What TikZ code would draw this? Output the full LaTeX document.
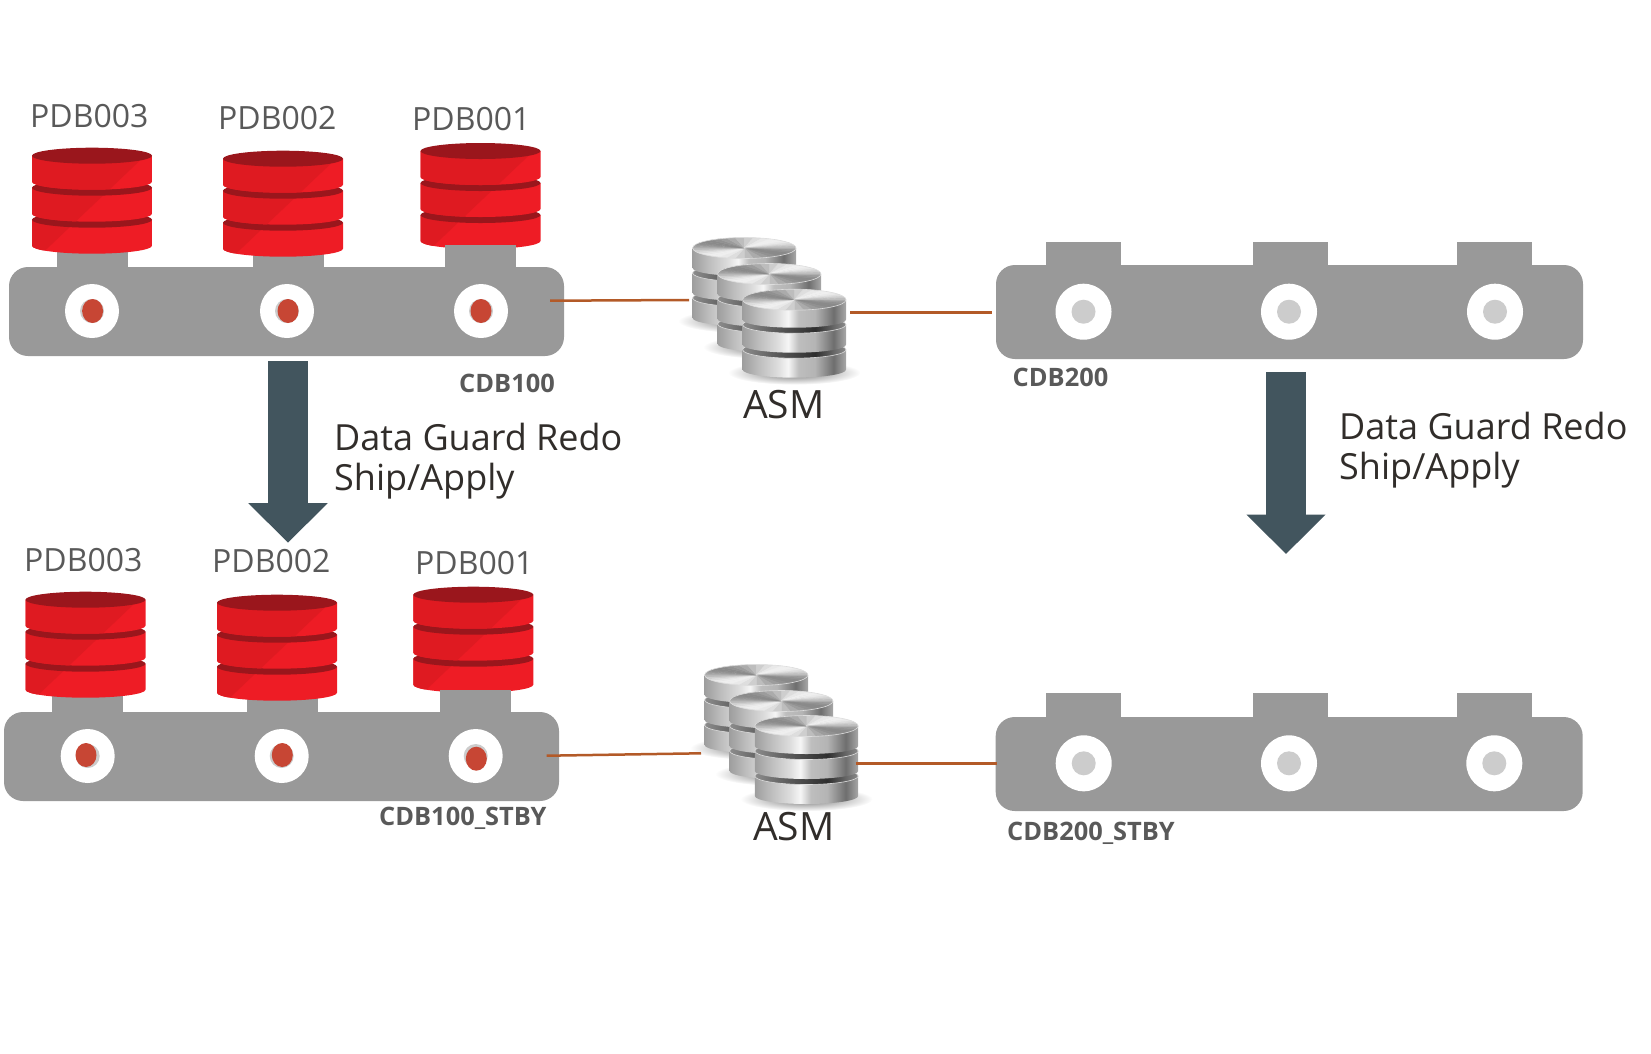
\documentclass[tikz,border=0pt]{standalone}
\usepackage{fontspec}
\setmainfont{Open Sans}
\usetikzlibrary{shapes,calc,positioning,arrows.meta,fadings}

\definecolor{barGrey}{HTML}{999999}
\definecolor{portGrey}{HTML}{CCCCCC}
\definecolor{portRed}{HTML}{C74634}
\definecolor{redBright}{HTML}{EE1C25}
\definecolor{redDark}{HTML}{DF1A21}
\definecolor{redTop}{HTML}{9A161C}
\definecolor{linkBrown}{HTML}{B35A28}
\definecolor{redoSlate}{HTML}{42555E}
\definecolor{labelGrey}{HTML}{595959}
\definecolor{textDark}{HTML}{312D2A}
\definecolor{metalEdge}{HTML}{9E9E9E}
\definecolor{metalMid}{HTML}{BEBEBE}
\definecolor{metalLight}{HTML}{DDDDDD}
\definecolor{metalShine}{HTML}{F6F6F6}
\definecolor{metalDrop}{HTML}{B4B4B4}
\definecolor{metalDark}{HTML}{6E6E6E}
\definecolor{metalRim}{HTML}{A8A8A8}
\definecolor{gapEdge}{HTML}{8C8C8C}
\definecolor{gapMid}{HTML}{5E5E5E}
\definecolor{gapDark}{HTML}{2E2E2E}

\pgfdeclarehorizontalshading{metal}{100bp}{color(0bp)=(metalEdge); color(25bp)=(metalEdge);
  color(33bp)=(metalMid); color(42bp)=(metalLight); color(47bp)=(metalShine); color(52bp)=(metalMid);
  color(60bp)=(metalDrop); color(69bp)=(metalDark); color(75bp)=(metalRim); color(100bp)=(metalRim)}
\pgfdeclarehorizontalshading{metalgap}{100bp}{color(0bp)=(gapEdge); color(25bp)=(gapEdge);
  color(40bp)=(gapMid); color(60bp)=(gapDark); color(75bp)=(gapEdge); color(100bp)=(gapEdge)}
\tikzfading[name=softshadow,inner color=transparent!45,outer color=transparent!100]

\tikzset{
  barbox/.style={fill=barGrey,rounded corners=19pt,inner sep=0pt,outer sep=0pt,minimum width=#1},
  tabbox/.style={fill=barGrey,inner sep=0pt,outer sep=0pt,minimum width=#1},
  port/.style={circle,fill=white,inner sep=0pt,minimum size=#1},
  dot/.style={circle,fill=portGrey,inner sep=0pt,minimum size=24pt},
  reddot/.style={ellipse,fill=portRed,inner sep=0pt,minimum width=21pt,minimum height=24pt},
  pdblabel/.style={anchor=base west,inner sep=0pt,text=labelGrey,font=\fontsize{32}{32}\selectfont},
  cdblabel/.style={anchor=base west,inner sep=0pt,text=labelGrey,font=\bfseries\fontsize{25.4}{25.4}\selectfont},
  asmlabel/.style={anchor=base west,inner sep=0pt,text=textDark,font=\fontsize{39}{39}\selectfont},
  redolabel/.style={anchor=north west,inner sep=0pt,align=left,text=textDark,font=\fontsize{36}{40}\selectfont},
  linkline/.style={draw=linkBrown,line width=2.5pt},
  redoarrow/.style={draw=redoSlate,line width=39.5pt,-{Triangle[length=39.5pt,width=77pt,fill=redoSlate]}},
  pics/redstack/.style={code={
    \foreach \k in {2,1,0}{
      \pgfmathsetmacro\dtop{32*\k}
      \pgfmathsetmacro\dbot{32*\k+26}
      \begin{scope}
        \clip (-60,\dtop) -- (-60,\dbot) arc[start angle=180,end angle=360,x radius=60pt,y radius=8pt] -- (60,\dtop) -- cycle;
        \fill[redBright] (-61,-9) rectangle (61,100);
        \fill[redDark] (52,1) -- (-46,94) -- (-61,99) -- (-61,-9) -- (52,-9) -- cycle;
      \end{scope}
      \fill[redTop] (0,\dtop) ellipse [x radius=60pt,y radius=8pt];
    }
  }},
  pics/diskstack/.style={code={
    \fill[black,path fading=softshadow] (0,73) ellipse [x radius=66pt,y radius=12pt];
    \foreach \k in {2,1,0}{
      \pgfmathsetmacro\dtop{25*\k}
      \pgfmathsetmacro\dbot{25*\k+20}
      \path[shading=metal] (-51.7,\dtop) -- (-51.7,\dbot) arc[start angle=180,end angle=360,x radius=51.7pt,y radius=8pt] -- (51.7,\dtop) -- cycle;
      \ifnum\k>0
        \path[shading=metalgap] (0,\dtop) ellipse [x radius=51.7pt,y radius=8.5pt];
        \draw[metalLight,line width=.6pt] (0,\dtop) ellipse [x radius=51.7pt,y radius=8.5pt];
      \fi
    }
    \foreach \a in {0,10,...,350}{
      \pgfmathsetmacro\g{.74+.2*cos(2*(\a+5-130))}
      \definecolor{sect}{gray}{\g}
      \fill[sect,draw=sect,line width=.4pt] (0,0) -- ({51.4*cos(\a)},{10.3*sin(\a)}) -- ({51.4*cos(\a+10)},{10.3*sin(\a+10)}) -- cycle;
    }
    \draw[metalLight,line width=.6pt] (0,0) ellipse [x radius=51.7pt,y radius=10.5pt];
  }}
}

\begin{document}
\begin{tikzpicture}[x=1pt,y=-1pt]
  \useasboundingbox (0,0) rectangle (1651,1053);
  % stacks that sit behind their tab
  \pic (pdbOneTop) at (480.5,151) {redstack};
  \pic (pdbOneLow) at (473.3,594.7) {redstack};

  % container bars
  \node[barbox=555pt,minimum height=89pt] (cdbHundred) at (286.5,311.5) {};
  \node[barbox=587pt,minimum height=94pt] (cdbTwoHundred) at (1289.5,312) {};
  \node[barbox=555pt,minimum height=89pt] (cdbHundredStby) at (281.5,756.5) {};
  \node[barbox=587pt,minimum height=94pt] (cdbTwoHundredStby) at (1289.2,764) {};
  \foreach \n/\x in {a/92.5,b/288,c/480.5}
    \node[tabbox=71pt,minimum height=24pt] (tabA\n) at (\x,257) {};
  \foreach \n/\x in {a/1083.5,b/1290.5,c/1494.7}
    \node[tabbox=75pt,minimum height=25pt] (tabB\n) at (\x,254.5) {};
  \foreach \n/\x in {a/87.5,b/282.5,c/475.5}
    \node[tabbox=71pt,minimum height=24pt] (tabC\n) at (\x,702) {};
  \foreach \n/\x in {a/1083.5,b/1290.5,c/1494.5}
    \node[tabbox=75pt,minimum height=26pt] (tabD\n) at (\x,706) {};

  % red stacks in front of the tabs
  \pic (pdbThreeTop) at (92,155.7) {redstack};
  \pic (pdbTwoTop) at (283,158.7) {redstack};
  \pic (pdbThreeLow) at (85.5,599.7) {redstack};
  \pic (pdbTwoLow) at (277,602.7) {redstack};

  % ports
  \foreach \n/\x/\rx/\ry in {a/92/92.6/311,b/287/288/311,c/481/481/311}{
    \node[port=54pt] (portA\n) at (\x,311) {};
    \node[dot] at (portA\n) {};
    \node[reddot] (redA\n) at (\rx,\ry) {};
  }
  \foreach \n/\x in {a/1083.5,b/1289,c/1495}{
    \node[port=56pt] (portB\n) at (\x,311.7) {};
    \node[dot] at (portB\n) {};
  }
  \foreach \n/\x/\rx/\ry in {a/87.7/86/755,b/281.7/282.3/755,c/475.7/476.3/758.7}{
    \node[port=54pt] (portC\n) at (\x,756) {};
    \node[dot] at (portC\n) {};
    \node[reddot] (redC\n) at (\rx,\ry) {};
  }
  \foreach \n/\x in {a/1083.7,b/1289,c/1494.3}{
    \node[port=56pt] (portD\n) at (\x,763.3) {};
    \node[dot] at (portD\n) {};
  }

  % asm disks
  \pic (asmTopBack) at (744.3,248) {diskstack};
  \pic (asmTopMid) at (769.3,274) {diskstack};
  \pic (asmTopFront) at (794.3,299.7) {diskstack};
  \pic (asmLowBack) at (756.3,675) {diskstack};
  \pic (asmLowMid) at (781.3,701) {diskstack};
  \pic (asmLowFront) at (806.5,726) {diskstack};

  % links
  \coordinate (linkAin) at (550,300.7);
  \coordinate (linkAout) at (689,300);
  \coordinate (linkBin) at (850,312.3);
  \coordinate (linkBout) at (992,312.3);
  \coordinate (linkCin) at (546.7,755.7);
  \coordinate (linkCout) at (701,753.3);
  \coordinate (linkDin) at (855.7,763.3);
  \coordinate (linkDout) at (996.7,763.3);
  \draw[linkline] (linkAin) -- (linkAout);
  \draw[linkline] (linkBin) -- (linkBout);
  \draw[linkline] (linkCin) -- (linkCout);
  \draw[linkline] (linkDin) -- (linkDout);

  % redo arrows
  \coordinate (redoAtop) at (288,361);
  \coordinate (redoAend) at (288,542.7);
  \coordinate (redoBtop) at (1286,372);
  \coordinate (redoBend) at (1286,554);
  \draw[redoarrow] (redoAtop) -- (redoAend);
  \draw[redoarrow] (redoBtop) -- (redoBend);

  % labels
  \node[pdblabel] (lblThreeTop) at (30,127) {PDB003};
  \node[pdblabel] (lblTwoTop) at (218,129) {PDB002};
  \node[pdblabel] (lblOneTop) at (412,130) {PDB001};
  \node[pdblabel] (lblThreeLow) at (24,571.7) {PDB003};
  \node[pdblabel] (lblTwoLow) at (212,572.7) {PDB002};
  \node[pdblabel] (lblOneLow) at (415,574) {PDB001};
  \node[cdblabel] (lblHundred) at (459,392) {CDB100};
  \node[cdblabel] (lblTwoHundred) at (1012.5,386) {CDB200};
  \node[cdblabel] (lblHundredStby) at (379,825) {CDB100\_STBY};
  \node[cdblabel] (lblTwoHundredStby) at (1007,840) {CDB200\_STBY};
  \node[asmlabel] (lblAsmTop) at (743,418) {ASM};
  \node[asmlabel] (lblAsmLow) at (753,840.7) {ASM};
  \node[redolabel] (lblRedoA) at (334,423) {Data Guard Redo\\Ship/Apply};
  \node[redolabel] (lblRedoB) at (1339,412) {Data Guard Redo\\Ship/Apply};
\end{tikzpicture}
\end{document}
